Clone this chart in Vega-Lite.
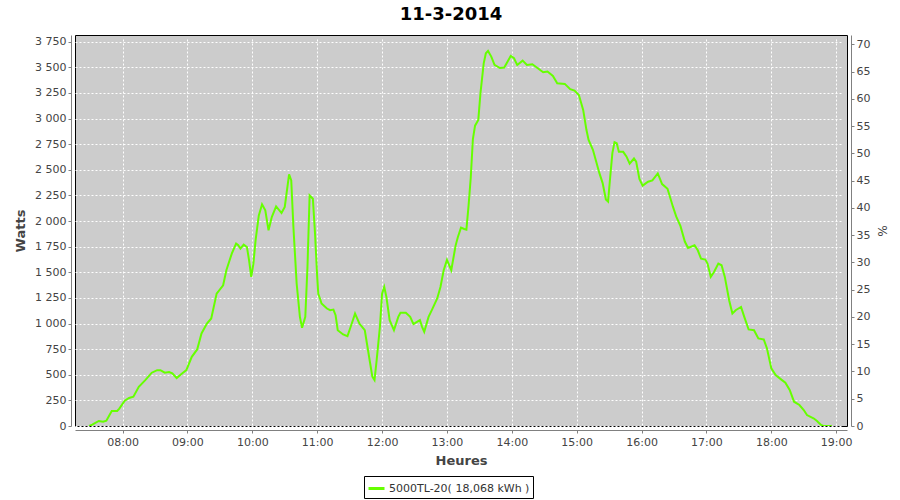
{
  "$schema": "https://vega.github.io/schema/vega-lite/v6.json",
  "autosize": {"type": "none"},
  "padding": {"top": 35, "left": 75, "right": 53, "bottom": 74},
  "width": 772,
  "height": 391,
  "background": "white",
  "title": {"text": "11-3-2014", "font": "DejaVu Sans", "fontSize": 18, "fontWeight": "bold", "color": "#000000", "anchor": "middle", "dx": -10, "offset": 11},
  "config": {
    "view": {"fill": "#cccccc", "stroke": "#000000", "strokeWidth": 1},
    "axis": {
      "domainColor": "#808080", "tickColor": "#808080", "tickSize": 3, "offset": 4,
      "labelFont": "DejaVu Sans", "labelFontSize": 11, "labelColor": "#444444",
      "titleFont": "DejaVu Sans", "titleFontSize": 13, "titleFontWeight": "bold", "titleColor": "#444444",
      "gridColor": "#ffffff", "gridDash": [2, 2], "gridWidth": 1, "gridOpacity": 1
    }
  },
  "layer": [
    {
      "data": {"values": [
        {"t": "2014-03-11T07:29", "W": 0},
        {"t": "2014-03-11T07:32", "W": 13},
        {"t": "2014-03-11T07:38", "W": 49},
        {"t": "2014-03-11T07:42", "W": 42},
        {"t": "2014-03-11T07:45", "W": 52},
        {"t": "2014-03-11T07:50", "W": 146},
        {"t": "2014-03-11T07:55", "W": 146},
        {"t": "2014-03-11T07:57", "W": 169},
        {"t": "2014-03-11T08:02", "W": 247},
        {"t": "2014-03-11T08:06", "W": 273},
        {"t": "2014-03-11T08:10", "W": 286},
        {"t": "2014-03-11T08:15", "W": 383},
        {"t": "2014-03-11T08:21", "W": 448},
        {"t": "2014-03-11T08:27", "W": 520},
        {"t": "2014-03-11T08:32", "W": 545},
        {"t": "2014-03-11T08:35", "W": 545},
        {"t": "2014-03-11T08:39", "W": 520},
        {"t": "2014-03-11T08:43", "W": 526},
        {"t": "2014-03-11T08:46", "W": 513},
        {"t": "2014-03-11T08:50", "W": 468},
        {"t": "2014-03-11T08:55", "W": 513},
        {"t": "2014-03-11T08:59", "W": 545},
        {"t": "2014-03-11T09:04", "W": 675},
        {"t": "2014-03-11T09:09", "W": 747},
        {"t": "2014-03-11T09:13", "W": 903},
        {"t": "2014-03-11T09:18", "W": 1000},
        {"t": "2014-03-11T09:22", "W": 1049},
        {"t": "2014-03-11T09:27", "W": 1292},
        {"t": "2014-03-11T09:33", "W": 1373},
        {"t": "2014-03-11T09:36", "W": 1520},
        {"t": "2014-03-11T09:41", "W": 1682},
        {"t": "2014-03-11T09:45", "W": 1779},
        {"t": "2014-03-11T09:47", "W": 1763},
        {"t": "2014-03-11T09:49", "W": 1731},
        {"t": "2014-03-11T09:52", "W": 1770},
        {"t": "2014-03-11T09:55", "W": 1747},
        {"t": "2014-03-11T09:57", "W": 1617},
        {"t": "2014-03-11T09:59", "W": 1455},
        {"t": "2014-03-11T10:01", "W": 1585},
        {"t": "2014-03-11T10:03", "W": 1812},
        {"t": "2014-03-11T10:06", "W": 2055},
        {"t": "2014-03-11T10:09", "W": 2163},
        {"t": "2014-03-11T10:12", "W": 2104},
        {"t": "2014-03-11T10:15", "W": 1909},
        {"t": "2014-03-11T10:18", "W": 2039},
        {"t": "2014-03-11T10:22", "W": 2143},
        {"t": "2014-03-11T10:27", "W": 2078},
        {"t": "2014-03-11T10:30", "W": 2137},
        {"t": "2014-03-11T10:34", "W": 2455},
        {"t": "2014-03-11T10:36", "W": 2396},
        {"t": "2014-03-11T10:38", "W": 1942},
        {"t": "2014-03-11T10:41", "W": 1390},
        {"t": "2014-03-11T10:44", "W": 1065},
        {"t": "2014-03-11T10:46", "W": 958},
        {"t": "2014-03-11T10:49", "W": 1065},
        {"t": "2014-03-11T10:51", "W": 1552},
        {"t": "2014-03-11T10:53", "W": 2250},
        {"t": "2014-03-11T10:56", "W": 2218},
        {"t": "2014-03-11T10:58", "W": 1877},
        {"t": "2014-03-11T11:00", "W": 1455},
        {"t": "2014-03-11T11:01", "W": 1290},
        {"t": "2014-03-11T11:03", "W": 1230},
        {"t": "2014-03-11T11:04", "W": 1195},
        {"t": "2014-03-11T11:09", "W": 1146},
        {"t": "2014-03-11T11:12", "W": 1130},
        {"t": "2014-03-11T11:15", "W": 1136},
        {"t": "2014-03-11T11:17", "W": 1081},
        {"t": "2014-03-11T11:19", "W": 935},
        {"t": "2014-03-11T11:24", "W": 893},
        {"t": "2014-03-11T11:28", "W": 877},
        {"t": "2014-03-11T11:32", "W": 1000},
        {"t": "2014-03-11T11:35", "W": 1097},
        {"t": "2014-03-11T11:39", "W": 1000},
        {"t": "2014-03-11T11:44", "W": 935},
        {"t": "2014-03-11T11:46", "W": 805},
        {"t": "2014-03-11T11:49", "W": 610},
        {"t": "2014-03-11T11:51", "W": 481},
        {"t": "2014-03-11T11:53", "W": 448},
        {"t": "2014-03-11T11:55", "W": 643},
        {"t": "2014-03-11T11:58", "W": 968},
        {"t": "2014-03-11T12:00", "W": 1292},
        {"t": "2014-03-11T12:02", "W": 1357},
        {"t": "2014-03-11T12:04", "W": 1260},
        {"t": "2014-03-11T12:07", "W": 1033},
        {"t": "2014-03-11T12:11", "W": 935},
        {"t": "2014-03-11T12:15", "W": 1065},
        {"t": "2014-03-11T12:17", "W": 1104},
        {"t": "2014-03-11T12:22", "W": 1104},
        {"t": "2014-03-11T12:26", "W": 1065},
        {"t": "2014-03-11T12:29", "W": 994},
        {"t": "2014-03-11T12:35", "W": 1033},
        {"t": "2014-03-11T12:37", "W": 968},
        {"t": "2014-03-11T12:39", "W": 919},
        {"t": "2014-03-11T12:43", "W": 1065},
        {"t": "2014-03-11T12:46", "W": 1130},
        {"t": "2014-03-11T12:51", "W": 1244},
        {"t": "2014-03-11T12:54", "W": 1357},
        {"t": "2014-03-11T12:57", "W": 1520},
        {"t": "2014-03-11T13:00", "W": 1620},
        {"t": "2014-03-11T13:04", "W": 1520},
        {"t": "2014-03-11T13:08", "W": 1760},
        {"t": "2014-03-11T13:10", "W": 1840},
        {"t": "2014-03-11T13:13", "W": 1935},
        {"t": "2014-03-11T13:16", "W": 1922},
        {"t": "2014-03-11T13:18", "W": 1916},
        {"t": "2014-03-11T13:20", "W": 2150},
        {"t": "2014-03-11T13:22", "W": 2420},
        {"t": "2014-03-11T13:24", "W": 2800},
        {"t": "2014-03-11T13:26", "W": 2930},
        {"t": "2014-03-11T13:29", "W": 2987},
        {"t": "2014-03-11T13:31", "W": 3247},
        {"t": "2014-03-11T13:34", "W": 3539},
        {"t": "2014-03-11T13:36", "W": 3636},
        {"t": "2014-03-11T13:38", "W": 3659},
        {"t": "2014-03-11T13:41", "W": 3604},
        {"t": "2014-03-11T13:44", "W": 3523},
        {"t": "2014-03-11T13:49", "W": 3493},
        {"t": "2014-03-11T13:53", "W": 3497},
        {"t": "2014-03-11T13:56", "W": 3555},
        {"t": "2014-03-11T13:59", "W": 3610},
        {"t": "2014-03-11T14:02", "W": 3588},
        {"t": "2014-03-11T14:05", "W": 3523},
        {"t": "2014-03-11T14:10", "W": 3565},
        {"t": "2014-03-11T14:14", "W": 3523},
        {"t": "2014-03-11T14:19", "W": 3529},
        {"t": "2014-03-11T14:24", "W": 3490},
        {"t": "2014-03-11T14:29", "W": 3451},
        {"t": "2014-03-11T14:33", "W": 3458},
        {"t": "2014-03-11T14:38", "W": 3416},
        {"t": "2014-03-11T14:42", "W": 3344},
        {"t": "2014-03-11T14:49", "W": 3338},
        {"t": "2014-03-11T14:54", "W": 3286},
        {"t": "2014-03-11T14:58", "W": 3273},
        {"t": "2014-03-11T15:02", "W": 3230},
        {"t": "2014-03-11T15:06", "W": 3084},
        {"t": "2014-03-11T15:09", "W": 2890},
        {"t": "2014-03-11T15:11", "W": 2792},
        {"t": "2014-03-11T15:15", "W": 2695},
        {"t": "2014-03-11T15:18", "W": 2581},
        {"t": "2014-03-11T15:21", "W": 2467},
        {"t": "2014-03-11T15:24", "W": 2370},
        {"t": "2014-03-11T15:27", "W": 2210},
        {"t": "2014-03-11T15:29", "W": 2190},
        {"t": "2014-03-11T15:31", "W": 2430},
        {"t": "2014-03-11T15:33", "W": 2662},
        {"t": "2014-03-11T15:35", "W": 2770},
        {"t": "2014-03-11T15:37", "W": 2760},
        {"t": "2014-03-11T15:39", "W": 2675},
        {"t": "2014-03-11T15:43", "W": 2675},
        {"t": "2014-03-11T15:46", "W": 2630},
        {"t": "2014-03-11T15:49", "W": 2560},
        {"t": "2014-03-11T15:53", "W": 2610},
        {"t": "2014-03-11T15:55", "W": 2580},
        {"t": "2014-03-11T15:58", "W": 2410},
        {"t": "2014-03-11T16:01", "W": 2345},
        {"t": "2014-03-11T16:06", "W": 2383},
        {"t": "2014-03-11T16:10", "W": 2396},
        {"t": "2014-03-11T16:15", "W": 2464},
        {"t": "2014-03-11T16:19", "W": 2360},
        {"t": "2014-03-11T16:24", "W": 2315},
        {"t": "2014-03-11T16:29", "W": 2140},
        {"t": "2014-03-11T16:32", "W": 2045},
        {"t": "2014-03-11T16:36", "W": 1950},
        {"t": "2014-03-11T16:40", "W": 1800},
        {"t": "2014-03-11T16:43", "W": 1737},
        {"t": "2014-03-11T16:49", "W": 1763},
        {"t": "2014-03-11T16:52", "W": 1714},
        {"t": "2014-03-11T16:55", "W": 1633},
        {"t": "2014-03-11T16:59", "W": 1624},
        {"t": "2014-03-11T17:01", "W": 1585},
        {"t": "2014-03-11T17:04", "W": 1455},
        {"t": "2014-03-11T17:07", "W": 1503},
        {"t": "2014-03-11T17:11", "W": 1585},
        {"t": "2014-03-11T17:14", "W": 1568},
        {"t": "2014-03-11T17:17", "W": 1455},
        {"t": "2014-03-11T17:21", "W": 1227},
        {"t": "2014-03-11T17:24", "W": 1097},
        {"t": "2014-03-11T17:27", "W": 1130},
        {"t": "2014-03-11T17:32", "W": 1162},
        {"t": "2014-03-11T17:35", "W": 1065},
        {"t": "2014-03-11T17:39", "W": 942},
        {"t": "2014-03-11T17:44", "W": 935},
        {"t": "2014-03-11T17:48", "W": 854},
        {"t": "2014-03-11T17:53", "W": 844},
        {"t": "2014-03-11T17:56", "W": 757},
        {"t": "2014-03-11T18:00", "W": 562},
        {"t": "2014-03-11T18:04", "W": 497},
        {"t": "2014-03-11T18:09", "W": 455},
        {"t": "2014-03-11T18:13", "W": 422},
        {"t": "2014-03-11T18:17", "W": 351},
        {"t": "2014-03-11T18:21", "W": 237},
        {"t": "2014-03-11T18:26", "W": 205},
        {"t": "2014-03-11T18:30", "W": 156},
        {"t": "2014-03-11T18:33", "W": 107},
        {"t": "2014-03-11T18:39", "W": 75},
        {"t": "2014-03-11T18:42", "W": 52},
        {"t": "2014-03-11T18:46", "W": 10},
        {"t": "2014-03-11T18:48", "W": 0},
        {"t": "2014-03-11T18:56", "W": 0}
      ]},
      "mark": {"type": "line", "strokeWidth": 2, "clip": true},
      "encoding": {
        "x": {
          "field": "t", "type": "temporal",
          "scale": {"domain": ["2014-03-11T07:16", "2014-03-11T19:10"], "nice": false},
          "axis": {
            "title": "Heures", "format": "%H:%M", "labelPadding": 3, "titlePadding": 7,
            "values": [
              {"year": 2014, "month": 3, "date": 11, "hours": 8},
              {"year": 2014, "month": 3, "date": 11, "hours": 9},
              {"year": 2014, "month": 3, "date": 11, "hours": 10},
              {"year": 2014, "month": 3, "date": 11, "hours": 11},
              {"year": 2014, "month": 3, "date": 11, "hours": 12},
              {"year": 2014, "month": 3, "date": 11, "hours": 13},
              {"year": 2014, "month": 3, "date": 11, "hours": 14},
              {"year": 2014, "month": 3, "date": 11, "hours": 15},
              {"year": 2014, "month": 3, "date": 11, "hours": 16},
              {"year": 2014, "month": 3, "date": 11, "hours": 17},
              {"year": 2014, "month": 3, "date": 11, "hours": 18},
              {"year": 2014, "month": 3, "date": 11, "hours": 19}
            ]
          }
        },
        "y": {
          "field": "W", "type": "quantitative",
          "scale": {"domain": [0, 3815], "nice": false, "zero": true},
          "axis": {
            "title": "Watts", "titlePadding": 7,
            "values": [0, 250, 500, 750, 1000, 1250, 1500, 1750, 2000, 2250, 2500, 2750, 3000, 3250, 3500, 3750],
            "labelExpr": "replace(format(datum.value, ','), ',', ' ')"
          }
        },
        "color": {
          "datum": "5000TL-20( 18,068 kWh )",
          "type": "nominal",
          "scale": {"range": ["#66ff00"]},
          "legend": {
            "title": null, "orient": "none", "legendX": 289, "legendY": 441,
            "direction": "horizontal",
            "strokeColor": "#000000", "fillColor": "#ffffff", "padding": 3,
            "symbolType": "stroke", "symbolSize": 256, "symbolStrokeWidth": 3,
            "labelFont": "DejaVu Sans", "labelFontSize": 11, "labelColor": "#333333", "labelOffset": 3
          }
        }
      }
    },
    {
      "data": {"values": [{"pct": 0}, {"pct": 70}]},
      "mark": {"type": "point", "opacity": 0},
      "encoding": {
        "y": {
          "field": "pct", "type": "quantitative",
          "scale": {"domain": [0, 71.7], "nice": false},
          "axis": {
            "orient": "right", "title": "%", "grid": false,
            "titleFontWeight": "normal", "titleFontSize": 12, "titlePadding": 5,
            "values": [0, 5, 10, 15, 20, 25, 30, 35, 40, 45, 50, 55, 60, 65, 70]
          }
        }
      }
    }
  ],
  "resolve": {"scale": {"y": "independent"}}
}
